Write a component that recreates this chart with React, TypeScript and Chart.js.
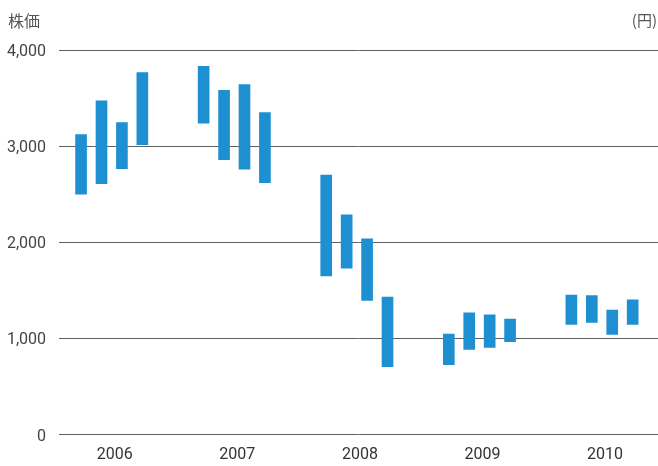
import React, { useEffect, useRef } from "react";
import { Chart, registerables } from "chart.js";

Chart.register(...registerables);

const years = ["2006", "2007", "2008", "2009", "2010"];
const quartersPerYear = 4;
const slotsPerYear = 6;

const highs = [3120, 3470, 3245, 3765, 3830, 3580, 3640, 3350, 2700, 2285, 2035, 1430, 1045, 1265, 1245, 1200, 1450, 1445, 1295, 1400];
const lows = [2500, 2610, 2765, 3015, 3240, 2860, 2760, 2620, 1650, 1730, 1395, 705, 727, 885, 905, 965, 1145, 1165, 1040, 1145];

const yTicks = [0, 1000, 2000, 3000, 4000];

const BAR_COLOR = "#1e90d1";

export default function App() {
  const ref = useRef<HTMLCanvasElement | null>(null);

  useEffect(() => {
    if (!ref.current) return;
    const data = highs.map((h, i) => ({
      x: Math.floor(i / quartersPerYear) * slotsPerYear + (i % quartersPerYear),
      y: [lows[i], h],
    }));

    const headerPlugin = {
      id: "header",
      afterDraw(chart: any) {
        const ctx = chart.ctx;
        ctx.save();
        ctx.fillStyle = "#555";
        ctx.textBaseline = "alphabetic";
        ctx.font = '16px "Noto Sans CJK JP", sans-serif';
        ctx.textAlign = "left";
        ctx.fillText("株価", 8, 27);
        ctx.font = '15px "Noto Sans CJK JP", sans-serif';
        ctx.textAlign = "right";
        ctx.fillText("(円)", 657, 26);
        ctx.restore();
      },
    };

    const chart = new Chart(ref.current, {
      type: "bar",
      data: {
        datasets: [
          {
            data: data as any,
            backgroundColor: BAR_COLOR,
            borderWidth: 0,
            barThickness: 11,
          },
        ],
      },
      options: {
        animation: false,
        responsive: false,
        maintainAspectRatio: false,
        layout: { padding: { top: 50, right: 0, bottom: 0, left: 0 } },
        plugins: {
          legend: { display: false },
          tooltip: { enabled: false },
          title: { display: false },
        },
        scales: {
          x: {
            type: "linear",
            offset: false,
            min: -1.08,
            max: 28.24,
            grid: { display: false, drawTicks: false, offset: false },
            border: { display: false },
            afterBuildTicks: (scale: any) => {
              scale.ticks = years.map((_, y) => ({ value: y * slotsPerYear + 1.65 }));
            },
            afterFit: (scale: any) => {
              scale.height = 31.5;
            },
            ticks: {
              padding: 11,
              color: "#333",
              font: { family: "Roboto", size: 16 },
              maxRotation: 0,
              autoSkip: false,
              callback: (_v: any, i: number) => years[i],
            },
          },
          y: {
            min: 0,
            max: 4000,
            afterBuildTicks: (scale: any) => {
              scale.ticks = yTicks.map((v) => ({ value: v }));
            },
            afterFit: (scale: any) => {
              scale.width = 59;
            },
            grid: { color: "#606060", lineWidth: 1, drawTicks: false },
            border: { display: false },
            ticks: {
              padding: 13,
              labelOffset: 2,
              color: "#444",
              font: { family: "Roboto", size: 16 },
              callback: (v: any) => Number(v).toLocaleString("en-US"),
            },
          },
        },
      },
      plugins: [headerPlugin],
    });
    return () => chart.destroy();
  }, []);

  return (
    <div style={{ position: "fixed", left: 0, top: 0, width: 658, height: 466, background: "#fff" }}>
      <canvas ref={ref} width={658} height={466} style={{ display: "block" }} />
    </div>
  );
}
